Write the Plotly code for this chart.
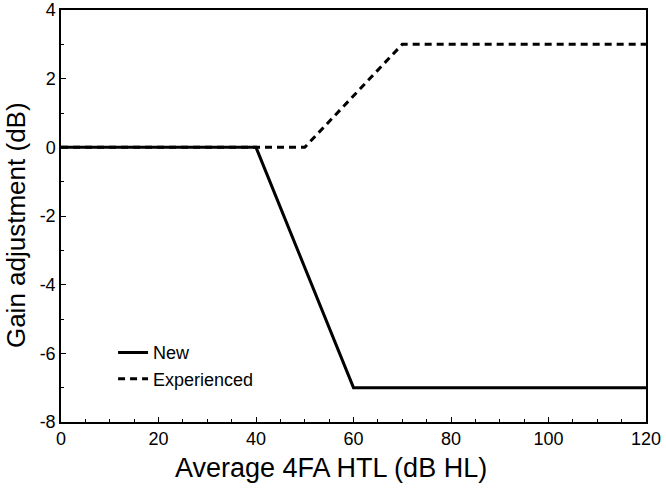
import plotly.graph_objects as go

new_x = [0, 40, 60, 120]
new_y = [0, 0, -7, -7]
exp_x = [0, 40, 50, 70, 120]
exp_y = [0, 0, 0, 3, 3]
x_ticks = [0, 20, 40, 60, 80, 100, 120]
y_ticks = [-8, -6, -4, -2, 0, 2, 4]
y_tick_text = ["-8", "-6", "-4", "-2", "0", "2", "4"]

fig = go.Figure()
fig.add_trace(go.Scatter(x=new_x, y=new_y, mode="lines", name="New",
                         line=dict(color="black", width=3)))
fig.add_trace(go.Scatter(x=exp_x, y=exp_y, mode="lines", name="Experienced",
                         line=dict(color="black", width=3, dash="7px,5px")))

font = "Liberation Sans, Arial, sans-serif"
fig.update_layout(
    width=666, height=492,
    margin=dict(l=61, r=20, t=10, b=70),
    paper_bgcolor="white", plot_bgcolor="white",
    font=dict(family=font, color="black", size=18),
    showlegend=True,
    legend=dict(x=0.089, y=0.213, xanchor="left", yanchor="top",
                bgcolor="rgba(0,0,0,0)", font=dict(size=18),
                tracegroupgap=0),
    xaxis=dict(range=[0, 120], tickvals=x_ticks, automargin=False,
               ticks="inside", ticklen=5, tickcolor="black",
               minor=dict(dtick=5, ticks="inside", ticklen=3, tickcolor="black"),
               showline=True, linecolor="black", linewidth=1.5, mirror=True,
               showgrid=False, zeroline=False),
    yaxis=dict(range=[-8, 4], tickvals=y_ticks, ticktext=y_tick_text, automargin=False,
               ticks="inside", ticklen=5, tickcolor="black",
               minor=dict(dtick=1, ticks="inside", ticklen=3, tickcolor="black"),
               showline=True, linecolor="black", linewidth=1.5, mirror=True,
               showgrid=False, zeroline=False),
    annotations=[
        dict(text="Gain adjustment (dB)", xref="paper", yref="paper",
             x=-0.0769, y=0.478, xanchor="center", yanchor="middle",
             textangle=-90, showarrow=False, font=dict(size=26)),
        dict(text="Average 4FA HTL (dB HL)", xref="paper", yref="paper",
             x=0.4615, y=-0.1117, xanchor="center", yanchor="middle",
             showarrow=False, font=dict(size=27)),
    ],
)
fig.write_html("out.html", config={"displayModeBar": False},
               post_script="document.body.style.margin='0';")
